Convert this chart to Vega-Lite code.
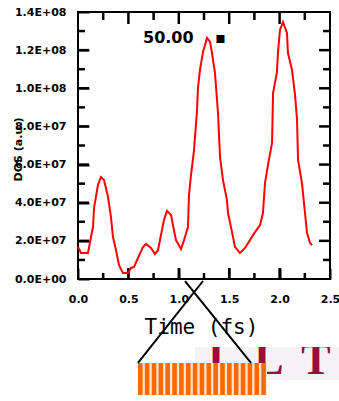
{
  "$schema": "https://vega.github.io/schema/vega-lite/v6.json",
  "width": 252,
  "height": 267,
  "autosize": {"type": "none"},
  "padding": {"left": 78, "top": 12, "right": 9, "bottom": 122},
  "background": "white",
  "config": {
    "view": {"stroke": "black", "strokeWidth": 2},
    "axis": {
      "domain": false, "grid": false,
      "labelFont": "DejaVu Sans", "labelFontWeight": "bold", "labelFontSize": 11, "labelColor": "black",
      "labelOverlap": false, "labelFlush": false,
      "titleColor": "black"
    }
  },
  "datasets": {
    "dos": [
      {"t": 0.000, "v": 16800000}, {"t": 0.030, "v": 13600000}, {"t": 0.099, "v": 13600000},
      {"t": 0.129, "v": 22000000}, {"t": 0.149, "v": 27300000}, {"t": 0.159, "v": 37200000},
      {"t": 0.198, "v": 49300000}, {"t": 0.228, "v": 53500000}, {"t": 0.258, "v": 51900000},
      {"t": 0.298, "v": 43000000}, {"t": 0.327, "v": 32500000}, {"t": 0.347, "v": 22000000},
      {"t": 0.377, "v": 15200000}, {"t": 0.407, "v": 7300000}, {"t": 0.446, "v": 3100000},
      {"t": 0.496, "v": 3100000}, {"t": 0.526, "v": 5800000}, {"t": 0.556, "v": 6300000},
      {"t": 0.595, "v": 11000000}, {"t": 0.645, "v": 16800000}, {"t": 0.675, "v": 18400000},
      {"t": 0.724, "v": 16300000}, {"t": 0.764, "v": 13100000}, {"t": 0.794, "v": 15200000},
      {"t": 0.823, "v": 23100000}, {"t": 0.853, "v": 30900000}, {"t": 0.883, "v": 35700000},
      {"t": 0.923, "v": 33600000}, {"t": 0.942, "v": 28300000}, {"t": 0.972, "v": 20400000},
      {"t": 1.022, "v": 15700000}, {"t": 1.052, "v": 20400000}, {"t": 1.091, "v": 27300000},
      {"t": 1.101, "v": 44000000}, {"t": 1.121, "v": 54500000}, {"t": 1.151, "v": 67600000},
      {"t": 1.181, "v": 88600000}, {"t": 1.190, "v": 100100000}, {"t": 1.210, "v": 109600000},
      {"t": 1.240, "v": 119000000}, {"t": 1.280, "v": 126400000}, {"t": 1.310, "v": 124300000},
      {"t": 1.329, "v": 118500000}, {"t": 1.359, "v": 108000000}, {"t": 1.389, "v": 87000000},
      {"t": 1.409, "v": 64000000}, {"t": 1.438, "v": 51900000}, {"t": 1.478, "v": 41400000},
      {"t": 1.488, "v": 34600000}, {"t": 1.528, "v": 24600000}, {"t": 1.558, "v": 16800000},
      {"t": 1.607, "v": 13600000}, {"t": 1.657, "v": 16300000}, {"t": 1.706, "v": 20400000},
      {"t": 1.756, "v": 24600000}, {"t": 1.806, "v": 28300000}, {"t": 1.835, "v": 34600000},
      {"t": 1.855, "v": 50300000}, {"t": 1.885, "v": 59800000}, {"t": 1.925, "v": 71300000},
      {"t": 1.935, "v": 97500000}, {"t": 1.974, "v": 108500000}, {"t": 1.984, "v": 119000000},
      {"t": 2.004, "v": 130600000}, {"t": 2.034, "v": 134700000}, {"t": 2.073, "v": 129000000},
      {"t": 2.083, "v": 118500000}, {"t": 2.123, "v": 109600000}, {"t": 2.153, "v": 96500000},
      {"t": 2.173, "v": 83400000}, {"t": 2.183, "v": 62400000}, {"t": 2.222, "v": 50300000},
      {"t": 2.252, "v": 34600000}, {"t": 2.272, "v": 24100000}, {"t": 2.302, "v": 18900000},
      {"t": 2.321, "v": 17800000}
    ],
    "note": [
      {"label": "50.00", "t": 0.645, "v": 123700000},
      {"label": "▪", "t": 1.362, "v": 123700000}
    ],
    "xmajor": [{"t": 0.5}, {"t": 1.0}, {"t": 1.5}, {"t": 2.0}],
    "xminor": [{"t": 0.25}, {"t": 0.75}, {"t": 1.25}, {"t": 1.75}, {"t": 2.25}],
    "ymajor": [{"v": 20000000}, {"v": 40000000}, {"v": 60000000}, {"v": 80000000}, {"v": 100000000}, {"v": 120000000}],
    "yminor": [{"v": 10000000}, {"v": 30000000}, {"v": 50000000}, {"v": 70000000}, {"v": 90000000}, {"v": 110000000}, {"v": 130000000}],
    "panel": [
      {"t": 1.161, "t2": 2.60, "v": -35660000, "v2": -52960000}
    ],
    "letters": [
      {"ch": "I", "t": 1.369, "v": -49800000},
      {"ch": "L", "t": 1.895, "v": -49800000},
      {"ch": "T", "t": 2.361, "v": -49800000}
    ],
    "mask": [
      {"t": 1.161, "t2": 2.60, "v": -31500000, "v2": -35660000}
    ],
    "stripebg": [
      {"t": 0.5952, "t2": 1.875, "v": -44040000, "v2": -60820000}
    ],
    "stripes": [
      {"t": 0.5952, "t2": 0.6409}, {"t": 0.6632, "t2": 0.7088}, {"t": 0.7312, "t2": 0.7768},
      {"t": 0.7991, "t2": 0.8447}, {"t": 0.8671, "t2": 0.9127}, {"t": 0.9350, "t2": 0.9807},
      {"t": 1.0030, "t2": 1.0486}, {"t": 1.0709, "t2": 1.1166}, {"t": 1.1389, "t2": 1.1845},
      {"t": 1.2068, "t2": 1.2525}, {"t": 1.2748, "t2": 1.3204}, {"t": 1.3428, "t2": 1.3884},
      {"t": 1.4107, "t2": 1.4563}, {"t": 1.4787, "t2": 1.5243}, {"t": 1.5466, "t2": 1.5923},
      {"t": 1.6146, "t2": 1.6602}, {"t": 1.6825, "t2": 1.7282}, {"t": 1.7505, "t2": 1.7962},
      {"t": 1.8185, "t2": 1.8641}
    ],
    "cross": [
      {"t": 1.240, "v": -1050000, "t2": 0.595, "v2": -44040000},
      {"t": 1.062, "v": -1050000, "t2": 1.716, "v2": -44040000}
    ]
  },
  "resolve": {"axis": {"x": "independent", "y": "independent"}},
  "layer": [
    {
      "data": {"name": "panel"},
      "mark": {"type": "rect", "color": "#F4F2F4"},
      "encoding": {
        "x": {"field": "t", "type": "quantitative", "scale": {"domain": [0, 2.5], "nice": false}, "axis": null},
        "x2": {"field": "t2"},
        "y": {"field": "v", "type": "quantitative", "scale": {"domain": [0, 140000000], "nice": false}, "axis": null},
        "y2": {"field": "v2"}
      }
    },
    {
      "data": {"name": "letters"},
      "mark": {"type": "text", "font": "Liberation Serif", "fontWeight": "bold", "fontSize": 44, "color": "#9B0B3B", "align": "center", "baseline": "alphabetic"},
      "encoding": {
        "x": {"field": "t", "type": "quantitative", "scale": {"domain": [0, 2.5], "nice": false}, "axis": null},
        "y": {"field": "v", "type": "quantitative", "scale": {"domain": [0, 140000000], "nice": false}, "axis": null},
        "text": {"field": "ch"}
      }
    },
    {
      "data": {"name": "mask"},
      "mark": {"type": "rect", "color": "white"},
      "encoding": {
        "x": {"field": "t", "type": "quantitative", "scale": {"domain": [0, 2.5], "nice": false}, "axis": null},
        "x2": {"field": "t2"},
        "y": {"field": "v", "type": "quantitative", "scale": {"domain": [0, 140000000], "nice": false}, "axis": null},
        "y2": {"field": "v2"}
      }
    },
    {
      "data": {"name": "stripebg"},
      "mark": {"type": "rect", "color": "#FFE6D2"},
      "encoding": {
        "x": {"field": "t", "type": "quantitative", "scale": {"domain": [0, 2.5], "nice": false}, "axis": null},
        "x2": {"field": "t2"},
        "y": {"field": "v", "type": "quantitative", "scale": {"domain": [0, 140000000], "nice": false}, "axis": null},
        "y2": {"field": "v2"}
      }
    },
    {
      "data": {"name": "stripes"},
      "mark": {"type": "rect", "color": "#FF6A00"},
      "encoding": {
        "x": {"field": "t", "type": "quantitative", "scale": {"domain": [0, 2.5], "nice": false}, "axis": null},
        "x2": {"field": "t2"},
        "y": {"datum": -44040000, "type": "quantitative", "scale": {"domain": [0, 140000000], "nice": false}, "axis": null},
        "y2": {"datum": -60820000}
      }
    },
    {
      "data": {"name": "cross"},
      "mark": {"type": "rule", "color": "black", "strokeWidth": 2},
      "encoding": {
        "x": {"field": "t", "type": "quantitative", "scale": {"domain": [0, 2.5], "nice": false}, "axis": null},
        "x2": {"field": "t2"},
        "y": {"field": "v", "type": "quantitative", "scale": {"domain": [0, 140000000], "nice": false}, "axis": null},
        "y2": {"field": "v2"}
      }
    },
    {
      "data": {"name": "xmajor"},
      "mark": {"type": "rule", "color": "black", "strokeWidth": 2.5},
      "encoding": {
        "x": {"field": "t", "type": "quantitative", "scale": {"domain": [0, 2.5], "nice": false}, "axis": null},
        "y": {"datum": 0, "type": "quantitative", "scale": {"domain": [0, 140000000], "nice": false}, "axis": null},
        "y2": {"datum": 5770000}
      }
    },
    {
      "data": {"name": "xminor"},
      "mark": {"type": "rule", "color": "black", "strokeWidth": 2.5},
      "encoding": {
        "x": {"field": "t", "type": "quantitative", "scale": {"domain": [0, 2.5], "nice": false}, "axis": null},
        "y": {"datum": 0, "type": "quantitative", "scale": {"domain": [0, 140000000], "nice": false}, "axis": null},
        "y2": {"datum": 3150000}
      }
    },
    {
      "data": {"name": "xmajor"},
      "mark": {"type": "rule", "color": "black", "strokeWidth": 2.5},
      "encoding": {
        "x": {"field": "t", "type": "quantitative", "scale": {"domain": [0, 2.5], "nice": false}, "axis": null},
        "y": {"datum": 140000000, "type": "quantitative", "scale": {"domain": [0, 140000000], "nice": false}, "axis": null},
        "y2": {"datum": 133700000}
      }
    },
    {
      "data": {"name": "xminor"},
      "mark": {"type": "rule", "color": "black", "strokeWidth": 2.5},
      "encoding": {
        "x": {"field": "t", "type": "quantitative", "scale": {"domain": [0, 2.5], "nice": false}, "axis": null},
        "y": {"datum": 140000000, "type": "quantitative", "scale": {"domain": [0, 140000000], "nice": false}, "axis": null},
        "y2": {"datum": 135800000}
      }
    },
    {
      "data": {"name": "ymajor"},
      "mark": {"type": "rule", "color": "black", "strokeWidth": 2.5},
      "encoding": {
        "y": {"field": "v", "type": "quantitative", "scale": {"domain": [0, 140000000], "nice": false}, "axis": null},
        "x": {"datum": 0, "type": "quantitative", "scale": {"domain": [0, 2.5], "nice": false}, "axis": null},
        "x2": {"datum": 0.109}
      }
    },
    {
      "data": {"name": "yminor"},
      "mark": {"type": "rule", "color": "black", "strokeWidth": 2.5},
      "encoding": {
        "y": {"field": "v", "type": "quantitative", "scale": {"domain": [0, 140000000], "nice": false}, "axis": null},
        "x": {"datum": 0, "type": "quantitative", "scale": {"domain": [0, 2.5], "nice": false}, "axis": null},
        "x2": {"datum": 0.069}
      }
    },
    {
      "data": {"name": "ymajor"},
      "mark": {"type": "rule", "color": "black", "strokeWidth": 2.5},
      "encoding": {
        "y": {"field": "v", "type": "quantitative", "scale": {"domain": [0, 140000000], "nice": false}, "axis": null},
        "x": {"datum": 2.5, "type": "quantitative", "scale": {"domain": [0, 2.5], "nice": false}, "axis": null},
        "x2": {"datum": 2.391}
      }
    },
    {
      "data": {"name": "yminor"},
      "mark": {"type": "rule", "color": "black", "strokeWidth": 2.5},
      "encoding": {
        "y": {"field": "v", "type": "quantitative", "scale": {"domain": [0, 140000000], "nice": false}, "axis": null},
        "x": {"datum": 2.5, "type": "quantitative", "scale": {"domain": [0, 2.5], "nice": false}, "axis": null},
        "x2": {"datum": 2.431}
      }
    },
    {
      "data": {"name": "dos"},
      "mark": {"type": "line", "color": "#FF0000", "strokeWidth": 2},
      "encoding": {
        "x": {
          "field": "t", "type": "quantitative",
          "scale": {"domain": [0, 2.5], "nice": false},
          "axis": {
            "orient": "bottom",
            "values": [0, 0.5, 1, 1.5, 2, 2.5],
            "offset": -11,
            "tickSize": 11, "tickColor": "black", "tickWidth": 2,
            "format": ".1f",
            "labelPadding": 14,
            "title": "Time (fs)",
            "titleFont": "DejaVu Sans Mono", "titleFontSize": 21, "titleFontWeight": "normal",
            "titleX": 123, "titleY": 65, "titleAlign": "center", "titleBaseline": "alphabetic"
          }
        },
        "y": {
          "field": "v", "type": "quantitative",
          "scale": {"domain": [0, 140000000], "nice": false},
          "axis": {
            "orient": "left",
            "values": [0, 20000000, 40000000, 60000000, 80000000, 100000000, 120000000, 140000000],
            "offset": -11,
            "tickSize": 11, "tickColor": "black", "tickWidth": 2,
            "labelExpr": "datum.value === 0 ? '0.0E+00' : format(datum.value / pow(10, floor(log(datum.value) / LN10 + 1e-9)), '.1f') + 'E+' + (floor(log(datum.value) / LN10 + 1e-9) < 10 ? '0' : '') + floor(log(datum.value) / LN10 + 1e-9)",
            "labelPadding": 12,
            "title": "DOS (a.u.)",
            "titleFont": "DejaVu Sans", "titleFontSize": 11, "titleFontWeight": "bold",
            "titleAngle": -90, "titleX": -71, "titleY": 137, "titleAlign": "center", "titleBaseline": "middle"
          }
        }
      }
    },
    {
      "data": {"name": "note"},
      "mark": {"type": "text", "font": "DejaVu Sans", "fontWeight": "bold", "fontSize": 16, "color": "black", "align": "left", "baseline": "alphabetic"},
      "encoding": {
        "x": {"field": "t", "type": "quantitative", "scale": {"domain": [0, 2.5], "nice": false}, "axis": null},
        "y": {"field": "v", "type": "quantitative", "scale": {"domain": [0, 140000000], "nice": false}, "axis": null},
        "text": {"field": "label"}
      }
    }
  ]
}
